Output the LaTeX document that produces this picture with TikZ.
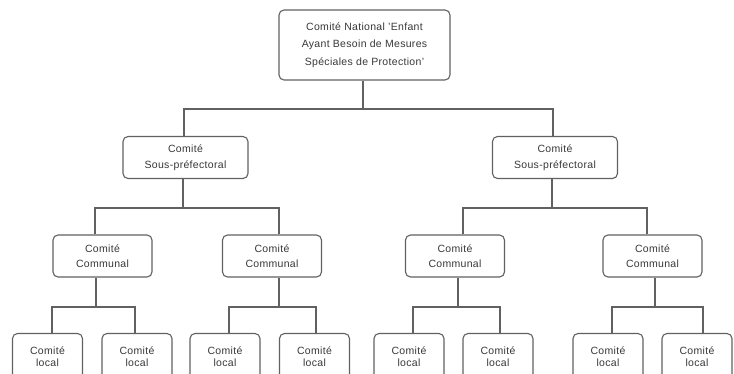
\documentclass[tikz,border=0pt]{standalone}
\usepackage{fontspec}
\setmainfont[LetterSpace=3]{Liberation Sans}
\begin{document}
\begin{tikzpicture}[x=1pt,y=-1pt,
  box/.style={draw=black!62, line width=1.1pt, rounded corners=5pt, fill=white, align=center,
    font=\fontsize{10.5}{14.5}\selectfont, text=black!78, inner sep=0pt},
  topbox/.style={box, minimum width=171pt, minimum height=70pt, font=\fontsize{10.5}{17.5}\selectfont},
  spbox/.style={box, minimum width=125pt, minimum height=42pt, font=\fontsize{10.5}{16}\selectfont},
  combox/.style={box, minimum width=99pt, minimum height=42pt},
  locbox/.style={box, minimum width=70pt, minimum height=47pt, font=\fontsize{10.5}{12}\selectfont},
  conn/.style={draw=black!62, line width=1.1pt}]
\useasboundingbox (0,0) rectangle (734,373);
\clip (0,0) rectangle (734,373);

\node[topbox] (top) at (364.5,45) {Comité National 'Enfant\\Ayant Besoin de Mesures\\Spéciales de Protection'};

\node[spbox] (sp1) at (185.5,157.5) {Comité\\Sous-préfectoral};
\node[spbox] (sp2) at (555,157.5) {Comité\\Sous-préfectoral};

\node[combox] (c1) at (102.5,256) {Comité\\Communal};
\node[combox] (c2) at (272,256) {Comité\\Communal};
\node[combox] (c3) at (455,256) {Comité\\Communal};
\node[combox] (c4) at (652.5,256) {Comité\\Communal};

\node[locbox] (l1) at (47.5,357) {Comité\\local};
\node[locbox] (l2) at (137,357) {Comité\\local};
\node[locbox] (l3) at (225,357) {Comité\\local};
\node[locbox] (l4) at (314.5,357) {Comité\\local};
\node[locbox] (l5) at (409,357) {Comité\\local};
\node[locbox] (l6) at (498,357) {Comité\\local};
\node[locbox] (l7) at (608,357) {Comité\\local};
\node[locbox] (l8) at (697,357) {Comité\\local};

% level 1
\coordinate (b0) at (0,109);
\draw[conn] ([xshift=-1.5pt]top.south) -- ([xshift=-1.5pt]top.south |- b0);
\draw[conn] ([xshift=-1.5pt]sp1.north) |- ([xshift=-1.5pt]top.south |- b0);
\draw[conn] ([xshift=-2pt]sp2.north) |- ([xshift=-1.5pt]top.south |- b0);

% level 2
\coordinate (b1) at (0,208);
\draw[conn] ([xshift=-2.5pt]sp1.south) -- ([xshift=-2.5pt]sp1.south |- b1);
\draw[conn] ([xshift=-7.5pt]c1.north) |- ([xshift=-2.5pt]sp1.south |- b1);
\draw[conn] ([xshift=7pt]c2.north) |- ([xshift=-2.5pt]sp1.south |- b1);
\draw[conn] ([xshift=-3pt]sp2.south) -- ([xshift=-3pt]sp2.south |- b1);
\draw[conn] ([xshift=8pt]c3.north) |- ([xshift=-3pt]sp2.south |- b1);
\draw[conn] ([xshift=-5.5pt]c4.north) |- ([xshift=-3pt]sp2.south |- b1);

% level 3
\coordinate (b2) at (0,307);
\draw[conn] ([xshift=-6.5pt]c1.south) -- ([xshift=-6.5pt]c1.south |- b2);
\draw[conn] ([xshift=4.5pt]l1.north) |- ([xshift=-6.5pt]c1.south |- b2);
\draw[conn] ([xshift=-2pt]l2.north) |- ([xshift=-6.5pt]c1.south |- b2);
\draw[conn] ([xshift=7pt]c2.south) -- ([xshift=7pt]c2.south |- b2);
\draw[conn] ([xshift=4pt]l3.north) |- ([xshift=7pt]c2.south |- b2);
\draw[conn] ([xshift=1.5pt]l4.north) |- ([xshift=7pt]c2.south |- b2);
\draw[conn] ([xshift=3pt]c3.south) -- ([xshift=3pt]c3.south |- b2);
\draw[conn] ([xshift=4pt]l5.north) |- ([xshift=3pt]c3.south |- b2);
\draw[conn] ([xshift=2pt]l6.north) |- ([xshift=3pt]c3.south |- b2);
\draw[conn] ([xshift=2.5pt]c4.south) -- ([xshift=2.5pt]c4.south |- b2);
\draw[conn] ([xshift=4pt]l7.north) |- ([xshift=2.5pt]c4.south |- b2);
\draw[conn] ([xshift=6pt]l8.north) |- ([xshift=2.5pt]c4.south |- b2);
\end{tikzpicture}
\end{document}
